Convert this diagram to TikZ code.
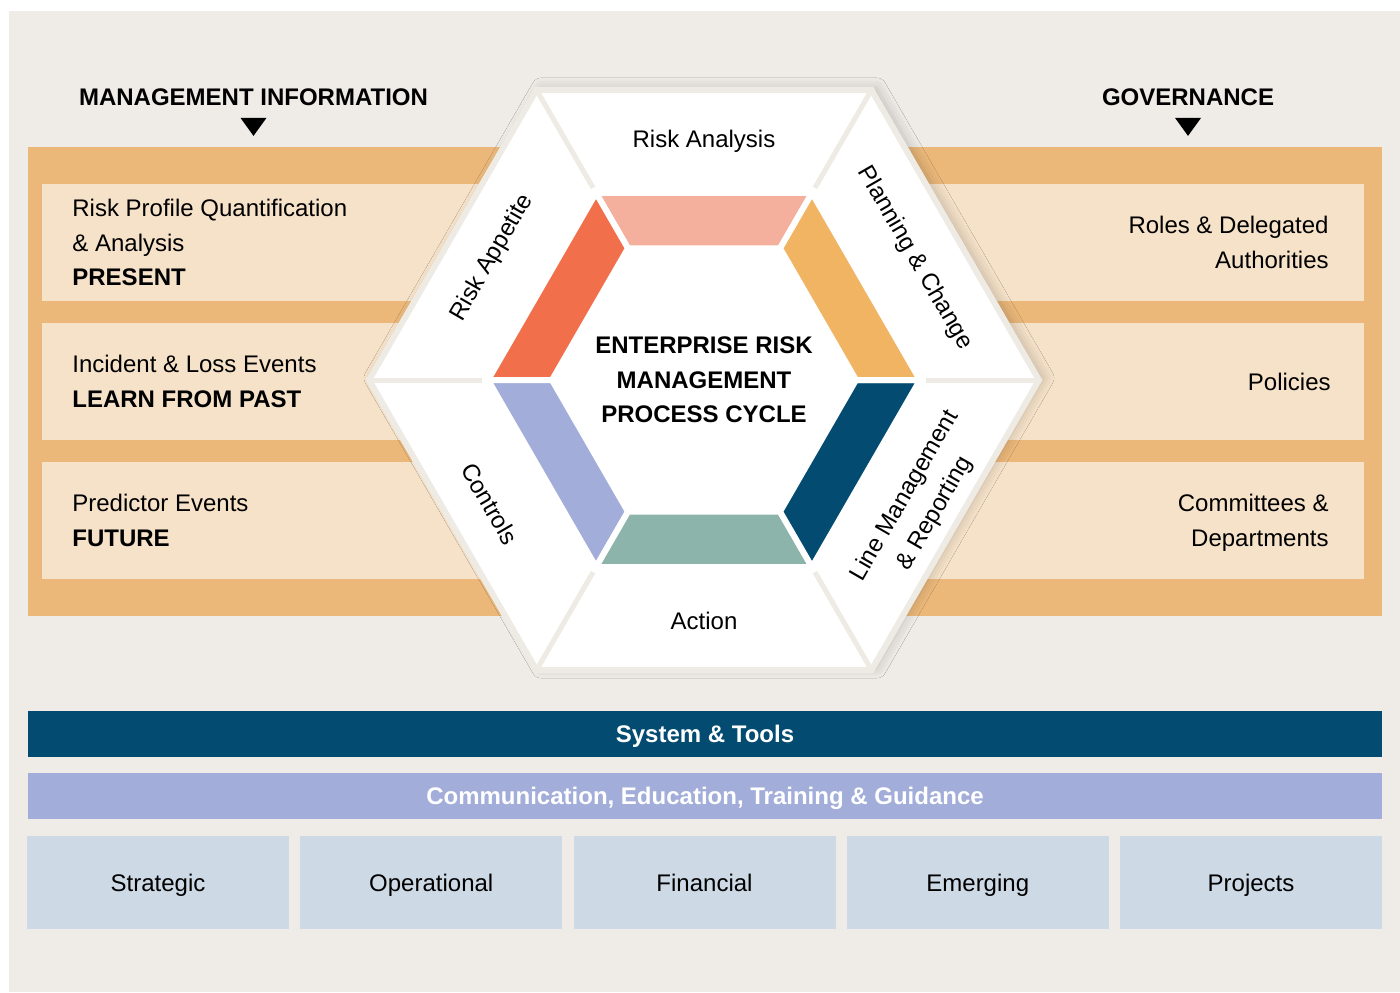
\documentclass[tikz,border=0pt]{standalone}
\usepackage{fontspec}
\setmainfont{Liberation Sans}
\usetikzlibrary{positioning,shadows.blur}
\definecolor{pageBg}{HTML}{EFEBE7}
\definecolor{bandFill}{HTML}{EBB87A}
\definecolor{rowFill}{HTML}{F6E2C9}
\definecolor{hexRim}{HTML}{EEEAE4}
\definecolor{segSalmon}{HTML}{F4B09C}
\definecolor{segRed}{HTML}{F26F4C}
\definecolor{segLilac}{HTML}{A2AED9}
\definecolor{segTeal}{HTML}{8DB4AA}
\definecolor{segNavy}{HTML}{034B71}
\definecolor{segAmber}{HTML}{F1B462}
\definecolor{catFill}{HTML}{CDD9E5}

\begin{document}
\begin{tikzpicture}[
  x=0.5pt,y=0.5pt,
  font=\fontsize{12}{17.25}\selectfont,
  panel/.style={rectangle,inner sep=0pt,outer sep=0pt,text depth=0pt},
  rowpanel/.style={panel,fill=rowFill,minimum width=661pt,minimum height=58.5pt},
  bar/.style={panel,minimum width=677pt,minimum height=23pt,text=white,font=\fontsize{12}{14}\selectfont\bfseries},
  catbox/.style={panel,fill=catFill,minimum width=131pt,minimum height=46.5pt},
  infotext/.style={inner sep=0pt,align=left,anchor=west,text depth=0pt},
  govtext/.style={inner sep=0pt,align=right,anchor=east,text depth=0pt},
  head/.style={inner sep=0pt,font=\fontsize{12}{17.25}\selectfont\bfseries},
  segtext/.style={inner sep=0pt,align=center,text depth=0pt},
  ring/.style={draw=white,line width=3pt,line join=miter},
  rim/.style={draw=hexRim,line width=3pt,line join=miter}
]
\useasboundingbox (0,0) rectangle (1400,992);
\fill[white] (0,0) rectangle (1400,992);
\fill[pageBg] (9,0) rectangle (1400,981);

% orange band behind the hexagon, three light rows
\node[panel,fill=bandFill,minimum width=677pt,minimum height=234.5pt] (band) at (705,610.5) {};
\node[rowpanel] (rowA) at (703,749.5) {};
\node[rowpanel,below=11pt of rowA] (rowB) {};
\node[rowpanel,below=11pt of rowB] (rowC) {};

\node[head] (mihead) at (253.5,895) {MANAGEMENT INFORMATION};
\node[head] (govhead) at (1188,895) {GOVERNANCE};
\foreach \h in {mihead,govhead}
  \fill (\h.south) ++(-13,-12) -- ++(26,0) -- ++(-13,-18) -- cycle;

\node[infotext] (present) at ([xshift=15pt]rowA.west) {Risk Profile Quantification\\\& Analysis\\\textbf{PRESENT}};
\node[infotext] (past) at ([xshift=15pt]rowB.west) {Incident \& Loss Events\\\textbf{LEARN FROM PAST}};
\node[infotext] (future) at ([xshift=15pt]rowC.west) {Predictor Events\\\textbf{FUTURE}};
\node[govtext] (roles) at ([xshift=-17.5pt]rowA.east) {Roles \& Delegated\\Authorities};
\node[govtext] (policies) at ([xshift=-16.5pt]rowB.east) {Policies};
\node[govtext] (committees) at ([xshift=-17.5pt]rowC.east) {Committees \&\\Departments};

% process cycle hexagon
\begin{scope}[shift={(704,612)}]
  \fill[white,blur shadow={shadow xshift=2.5pt,shadow yshift=1pt,shadow blur radius=5pt,shadow opacity=20}]
    (0:335) -- (60:335) -- (120:335) -- (180:335) -- (240:335) -- (300:335) -- cycle;
  \draw[rim] (0:335) -- (60:335) -- (120:335) -- (180:335) -- (240:335) -- (300:335) -- cycle;
  \foreach \a in {0,60,...,300}
    \draw[rim,line width=2.5pt] (\a:335) -- (\a:222);
  \foreach \a/\c in {60/segSalmon,120/segRed,180/segLilac,240/segTeal,300/segNavy,0/segAmber}
    \filldraw[ring,fill=\c] (\a:216) -- (\a+60:216) -- (\a+60:152) -- (\a:152) -- cycle;
  \node[segtext] (analysis) at (90:241) {Risk Analysis};
  \node[segtext,rotate=-60] (planning) at (30:246) {Planning \& Change};
  \node[segtext,rotate=60] (linemgmt) at (-30:247) {Line Management\\\& Reporting};
  \node[segtext] (action) at (-90:241) {Action};
  \node[segtext,rotate=-60] (controls) at (-150:247) {Controls};
  \node[segtext,rotate=60] (appetite) at (150:247) {Risk Appetite};
  \node[head,align=center] (ermcycle) at (0,0) {ENTERPRISE RISK\\MANAGEMENT\\PROCESS CYCLE};
\end{scope}

% supporting layers
\node[bar,fill=segNavy] (tools) at (705,258) {System \& Tools};
\node[bar,fill=segLilac,below=8pt of tools] (training) {Communication, Education, Training \& Guidance};
\foreach \name [count=\i from 0] in {Strategic,Operational,Financial,Emerging,Projects}
  \node[catbox] (cat\i) at (158+273.25*\i,109.5) {\name};
\end{tikzpicture}
\end{document}
